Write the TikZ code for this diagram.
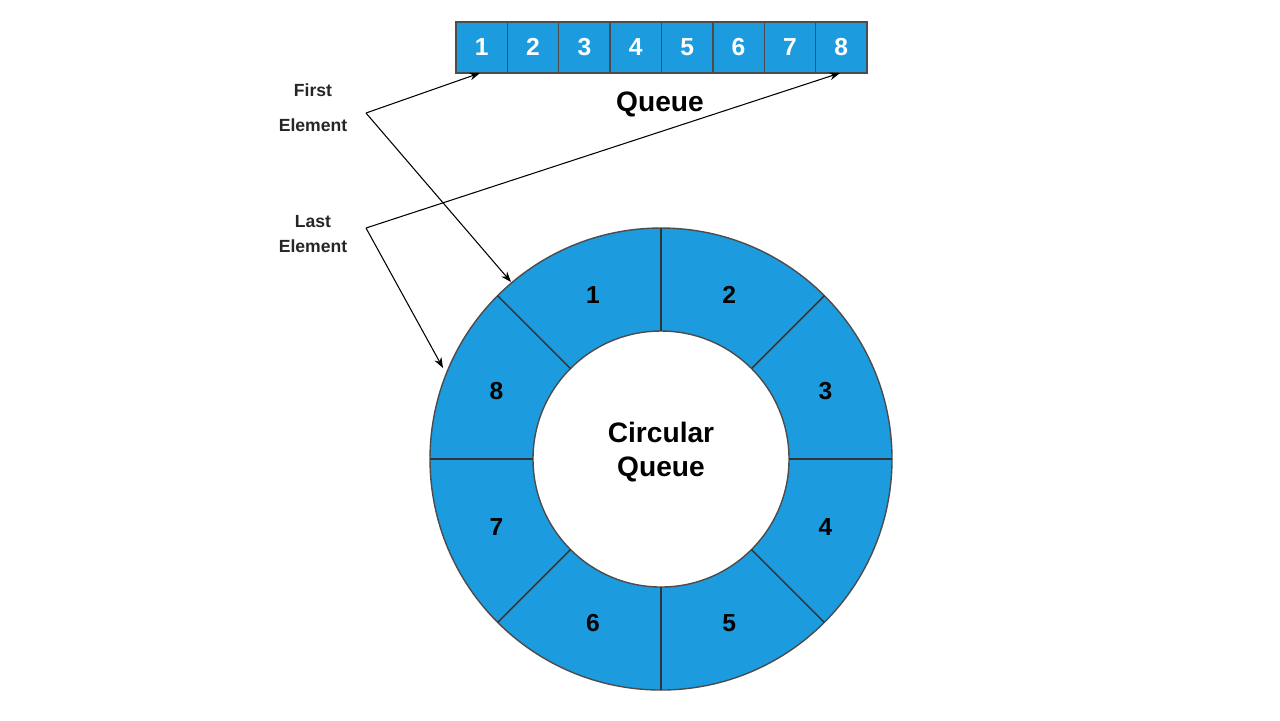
\documentclass[tikz,border=0pt]{standalone}
\usepackage{fontspec}
\setmainfont{Liberation Sans}
\usetikzlibrary{arrows.meta}
\definecolor{qb}{HTML}{1C9CDF}
\begin{document}
\begin{tikzpicture}[x=0.01cm,y=-0.01cm,
  cell/.style={draw=black!70,fill=qb,line width=0.4pt},
  num/.style={font=\bfseries\fontsize{7}{7}\selectfont},
  lbl/.style={font=\bfseries\fontsize{5}{6}\selectfont,text=black!85},
  arr/.style={-{Stealth[length=3pt,width=2.2pt]},line width=0.3pt}]
\useasboundingbox (0,0) rectangle (1280,720);
% linear queue
\foreach \i in {1,...,8}{
  \path[cell] ({456+(\i-1)*51.375},22) rectangle ({456+\i*51.375},73);
  \node[num,text=white] (q\i) at ({456+(\i-0.5)*51.375},47) {\i};
}
\coordinate (qa) at (480,73);
\coordinate (qb8) at (840,73);
\node[font=\bfseries\fontsize{8}{8}\selectfont] (qt) at (660,104) {Queue};
% ring
\fill[qb,draw=black!70,line width=0.4pt] (661,459) circle (231);
\fill[white,draw=black!70,line width=0.4pt] (661,459) circle (128);
\foreach \a in {0,45,...,315}{
  \draw[black!80,line width=0.4pt] ({661+128*cos(\a)},{459-128*sin(\a)}) -- ({661+231*cos(\a)},{459-231*sin(\a)});
}
\foreach \n/\a in {1/112.5,2/67.5,3/22.5,4/-22.5,5/-67.5,6/-112.5,7/202.5,8/157.5}{
  \node[num] (c\n) at ({661+178*cos(\a)},{459-178*sin(\a)}) {\n};
}
\node[font=\bfseries\fontsize{8}{9.6}\selectfont,align=center] (cq) at (661,452) {Circular\\Queue};
% labels
\node[lbl] (f1) at (313,90) {First};
\node[lbl] (f2) at (313,125) {Element};
\node[lbl] (l1) at (313,222) {Last};
\node[lbl] (l2) at (313,246) {Element};
\coordinate (fj) at (366,113);
\coordinate (lj) at (366,228);
\coordinate (r1) at (511,282);
\coordinate (r8) at (443,368);
\draw[arr] (fj) -- (qa);
\draw[arr] (fj) -- (r1);
\draw[arr] (lj) -- (qb8);
\draw[arr] (lj) -- (r8);
\end{tikzpicture}
\end{document}
